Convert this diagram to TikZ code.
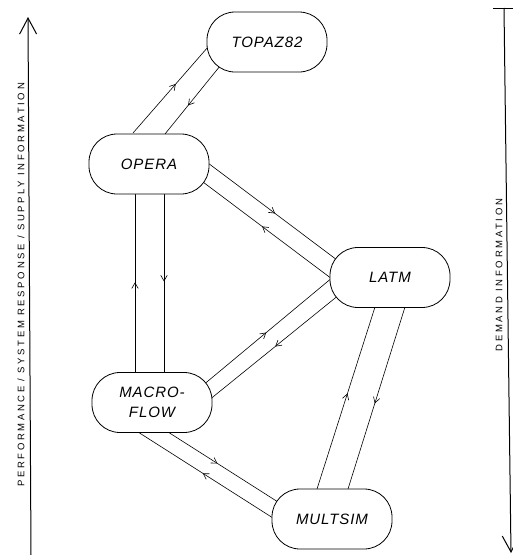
\documentclass[tikz,border=0pt]{standalone}
\usepackage{fontspec}
\setmainfont{Liberation Sans}
\newfontfamily\axisfont[LetterSpace=28]{Liberation Sans}
\newfontfamily\boxfont[LetterSpace=6]{Liberation Sans}
\usetikzlibrary{arrows.meta,decorations.markings,calc,backgrounds}
\begin{document}
\begin{tikzpicture}[x=1pt,y=-1pt,
  box/.style={draw,line width=0.8pt,fill=white,rounded corners=28pt,minimum width=120pt,minimum height=60pt,inner sep=0pt,align=center,font=\boxfont\itshape\fontsize{15}{20}\selectfont},
  flow/.style={line width=0.6pt,postaction={decorate},decoration={markings,mark=at position #1 with {\arrow{Straight Barb[length=5.5pt,width=6.5pt]}}}},
  flow/.default=0.5,
  axisline/.style={line width=1pt},
  axislabel/.style={font=\axisfont\fontsize{9.5}{11}\selectfont,rotate=90,inner sep=0pt}
]
\useasboundingbox (0,0) rectangle (513,555);

% nodes
\node[box] (topaz) at (267,42) {TOPAZ82};
\node[box] (opera) at (149,164) {OPERA};
\node[box] (latm) at (390,277.5) {LATM};
\node[box] (macro) at (152,402.5) {MACRO-\\FLOW};
\node[box] (multsim) at (332,519) {MULTSIM};

% connectors
\begin{scope}[on background layer]
\draw[flow=0.57] ($(opera)+(-16,-31)$) -- ($(topaz)+(-59,5)$);
\draw[flow=0.58] ($(topaz)+(-47,24)$) -- ($(opera)+(16,-30)$);
\draw[flow=0.52] ($(opera)+(59,-1)$) -- ($(latm)+(-53,-17.5)$);
\draw[flow=0.535] ($(latm)+(-60,0)$) -- ($(opera)+(54,18)$);
\draw[flow=0.505] ($(macro)+(-17,-29.5)$) -- ($(opera)+(-14,29.5)$);
\draw[flow=0.49] ($(opera)+(15,29.5)$) -- ($(macro)+(12,-29.5)$);
\draw[flow=0.49] ($(macro)+(53,-19)$) -- ($(latm)+(-60,2)$);
\draw[flow=0.49] ($(latm)+(-53,19)$) -- ($(macro)+(59,-4)$);
\draw[flow=0.52] ($(multsim)+(-59,-1)$) -- ($(macro)+(-14,29.5)$);
\draw[flow=0.45] ($(macro)+(16,29.5)$) -- ($(multsim)+(-54,-17)$);
\draw[flow=0.525] ($(multsim)+(-15,-30)$) -- ($(latm)+(-15,29.5)$);
\draw[flow=0.53] ($(latm)+(15,29.5)$) -- ($(multsim)+(16,-30)$);
\end{scope}

% axes
\coordinate (lbot) at (31,555);
\coordinate (ltop) at (28,17);
\draw[axisline,-{Straight Barb[length=16pt,width=17pt]}] (lbot) -- (ltop);
\coordinate (tickL) at (493,8);
\coordinate (tickR) at (514,8);
\coordinate (rtop) at (504,8);
\coordinate (rbot) at (511,553);
\draw[axisline] (tickL) -- (tickR);
\draw[axisline,-{Straight Barb[length=16pt,width=17pt]}] (rtop) -- (rbot);

\node[axislabel] (perf) at (21,285) {PERFORMANCE / SYSTEM RESPONSE / SUPPLY INFORMATION};
\node[axislabel] (demand) at (499,275) {DEMAND INFORMATION};
\end{tikzpicture}
\end{document}
